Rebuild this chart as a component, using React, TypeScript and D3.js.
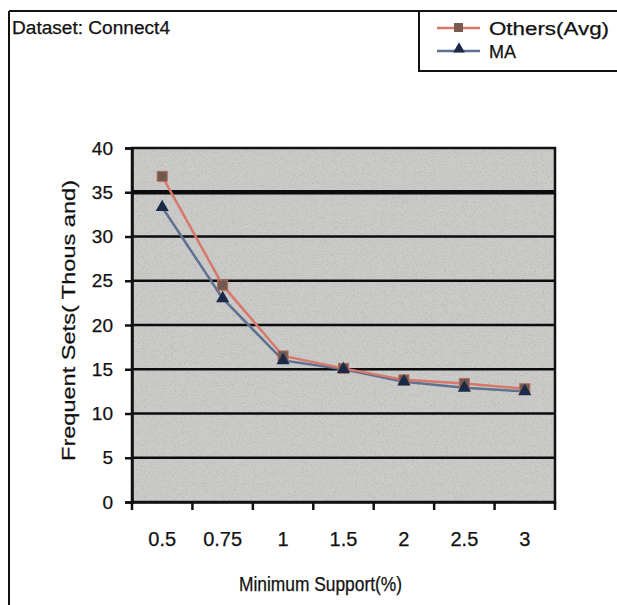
import React, { useEffect, useRef } from "react";
import * as d3 from "d3";

const categories = ["0.5", "0.75", "1", "1.5", "2", "2.5", "3"];
const othersAvg = [36.8, 24.5, 16.5, 15.1, 13.8, 13.4, 12.8];
const maValues = [33.3, 23.0, 16.0, 15.0, 13.6, 12.9, 12.5];
const yTicks = [0, 5, 10, 15, 20, 25, 30, 35, 40];

const W = 617;
const H = 605;

export default function App() {
  const ref = useRef<SVGSVGElement>(null);

  useEffect(() => {
    const svg = d3.select(ref.current);
    svg.selectAll("*").remove();

    const left = 132, right = 555, top = 148, bottom = 502;
    const font = "Arial, 'Liberation Sans', sans-serif";
    const ink = "#111";

    // scanned-looking text: a thin stroke thickens the glyphs
    const txt = (sel: any, size: number) =>
      sel.attr("font-family", font).attr("font-size", size).attr("fill", ink)
        .attr("stroke", ink).attr("stroke-width", 0.25);

    const defs = svg.append("defs");
    const f = defs.append("filter").attr("id", "grain").attr("x", 0).attr("y", 0).attr("width", 1).attr("height", 1);
    f.append("feTurbulence").attr("type", "fractalNoise").attr("baseFrequency", 1.1).attr("numOctaves", 2).attr("seed", 7).attr("result", "n");
    f.append("feColorMatrix").attr("in", "n").attr("type", "matrix")
      .attr("values", "0 0 0 0 0.35  0 0 0 0 0.35  0 0 0 0 0.35  1.4 0 0 0 -0.68");

    svg.append("rect").attr("width", W).attr("height", H).attr("fill", "#fff");

    // outer frame
    svg.append("line").attr("x1", 9).attr("x2", W).attr("y1", 11).attr("y2", 11).attr("stroke", ink).attr("stroke-width", 2);
    svg.append("line").attr("x1", 9).attr("x2", 9).attr("y1", 11).attr("y2", H).attr("stroke", ink).attr("stroke-width", 2);

    txt(svg.append("text").attr("x", 12).attr("y", 34), 18)
      .attr("textLength", 158).attr("lengthAdjust", "spacingAndGlyphs").text("Dataset: Connect4");

    const x = d3.scaleBand().domain(categories).range([left, right]);
    const y = d3.scaleLinear().domain([0, 40]).range([bottom, top]);

    // plot area
    svg.append("rect").attr("x", left).attr("y", top).attr("width", right - left).attr("height", bottom - top)
      .attr("fill", "#cbcbc9");
    svg.append("rect").attr("x", left).attr("y", top).attr("width", right - left).attr("height", bottom - top)
      .attr("fill", "#000").attr("filter", "url(#grain)");

    svg.selectAll(".grid").data(yTicks.filter(t => t > 0 && t < 40)).join("line")
      .attr("x1", left).attr("x2", right)
      .attr("y1", d => y(d)).attr("y2", d => y(d))
      .attr("stroke", "#0c0c0c").attr("stroke-width", d => (d === 35 ? 4.5 : 2.5));

    svg.append("rect").attr("x", left).attr("y", top).attr("width", right - left).attr("height", bottom - top)
      .attr("fill", "none").attr("stroke", ink).attr("stroke-width", 2.5);

    // y axis
    const yAxis = svg.append("g").attr("transform", `translate(${left},0)`)
      .call(d3.axisLeft(y).tickValues(yTicks).tickSize(7).tickPadding(12));
    yAxis.select(".domain").attr("stroke", ink).attr("stroke-width", 2.5);
    yAxis.selectAll("line").attr("stroke", ink).attr("stroke-width", 2.5);
    txt(yAxis.selectAll("text"), 19);

    // x axis
    const xAxis = svg.append("g").attr("transform", `translate(0,${bottom})`)
      .call(d3.axisBottom(x).tickSize(0).tickPadding(30));
    xAxis.select(".domain").attr("stroke", ink).attr("stroke-width", 2.5);
    txt(xAxis.selectAll("text"), 20);
    const edges = categories.map(c => x(c) as number).concat([right]);
    svg.selectAll(".xt").data(edges).join("line")
      .attr("x1", d => d).attr("x2", d => d).attr("y1", bottom).attr("y2", bottom + 8)
      .attr("stroke", ink).attr("stroke-width", 2.5);

    txt(svg.append("text").attr("x", 239).attr("y", 591), 20)
      .attr("textLength", 163).attr("lengthAdjust", "spacingAndGlyphs").text("Minimum Support(%)");
    txt(svg.append("text").attr("transform", `translate(75,461) rotate(-90)`), 19)
      .attr("textLength", 281).attr("lengthAdjust", "spacingAndGlyphs").text("Frequent Sets( Thous and)");

    const cx = (c: string) => (x(c) as number) + x.bandwidth() / 2;
    const line = d3.line<number>().x((_, i) => cx(categories[i])).y(d => y(d));

    const maColor = "#5f7190";
    const othersColor = "#d8776a";

    svg.append("path").datum(maValues).attr("d", line).attr("fill", "none").attr("stroke", maColor).attr("stroke-width", 2.5);
    svg.append("path").datum(othersAvg).attr("d", line).attr("fill", "none").attr("stroke", othersColor).attr("stroke-width", 2.5);

    const tri = d3.symbol().type(d3.symbolTriangle).size(75);
    svg.selectAll(".oa").data(othersAvg).join("rect")
      .attr("x", (d, i) => cx(categories[i]) - 5).attr("y", d => y(d) - 5)
      .attr("width", 10).attr("height", 10)
      .attr("fill", "#6e5a4e").attr("stroke", "#b86a5a").attr("stroke-width", 1);
    svg.selectAll(".ma").data(maValues).join("path")
      .attr("d", tri).attr("transform", (d, i) => `translate(${cx(categories[i])},${y(d)})`)
      .attr("fill", "#1b2a48");

    // legend
    const lg = svg.append("g");
    lg.append("rect").attr("x", 419).attr("y", 11).attr("width", W - 419 + 5).attr("height", 60)
      .attr("fill", "#fff").attr("stroke", ink).attr("stroke-width", 2);
    lg.append("line").attr("x1", 437).attr("x2", 480).attr("y1", 28).attr("y2", 28).attr("stroke", othersColor).attr("stroke-width", 2.5);
    lg.append("rect").attr("x", 454).attr("y", 23).attr("width", 9).attr("height", 9).attr("fill", "#7a5a4c");
    lg.append("line").attr("x1", 437).attr("x2", 480).attr("y1", 51).attr("y2", 51).attr("stroke", maColor).attr("stroke-width", 2.5);
    lg.append("path").attr("d", d3.symbol().type(d3.symbolTriangle).size(60)).attr("transform", "translate(459,49)").attr("fill", "#1b2a48");
    txt(lg.append("text").attr("x", 489).attr("y", 35), 18)
      .attr("textLength", 120).attr("lengthAdjust", "spacingAndGlyphs").text("Others(Avg)");
    txt(lg.append("text").attr("x", 489).attr("y", 58), 18).text("MA");
  }, []);

  return <svg ref={ref} width={W} height={H} style={{ position: "absolute", left: 0, top: 0 }} />;
}
